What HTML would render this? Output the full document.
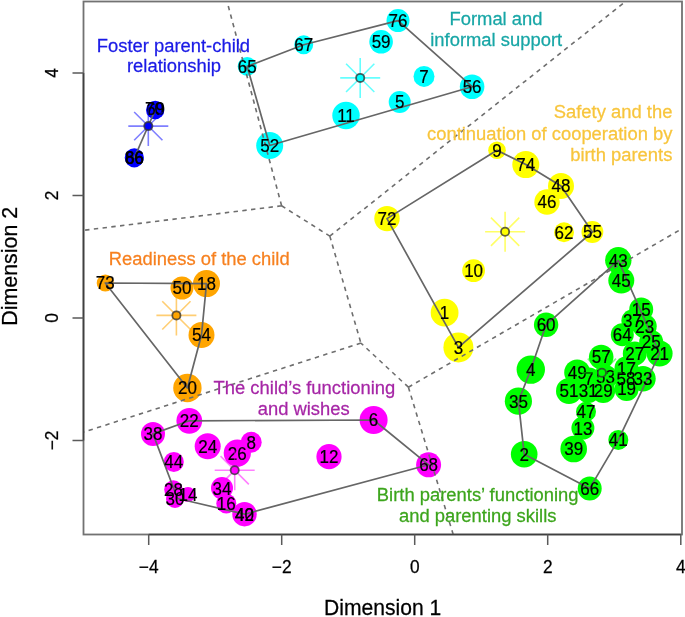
<!DOCTYPE html><html><head><meta charset="utf-8"><style>html,body{margin:0;padding:0;background:#fff;}svg{display:block;filter:blur(0.35px);}text{font-family:"Liberation Sans",sans-serif;}</style></head><body>
<svg width="685" height="617" viewBox="0 0 685 617">
<rect x="0" y="0" width="685" height="617" fill="#fff"/>
<circle cx="398" cy="20.6" r="11.5" fill="#00ffff"/>
<circle cx="303.7" cy="44.8" r="9.5" fill="#00ffff"/>
<circle cx="381.1" cy="41.8" r="11.8" fill="#00ffff"/>
<circle cx="247.2" cy="66.4" r="9.5" fill="#00ffff"/>
<circle cx="424" cy="76.4" r="10.5" fill="#00ffff"/>
<circle cx="472.1" cy="86.7" r="12.3" fill="#00ffff"/>
<circle cx="399.7" cy="102" r="11" fill="#00ffff"/>
<circle cx="346" cy="115.5" r="13.7" fill="#00ffff"/>
<circle cx="269.7" cy="145.5" r="13.5" fill="#00ffff"/>
<circle cx="155.2" cy="110" r="9.2" fill="#0000ff"/>
<circle cx="134.3" cy="157.8" r="9.6" fill="#0000ff"/>
<circle cx="105.3" cy="283" r="8.6" fill="#ffa500"/>
<circle cx="182" cy="288" r="11.5" fill="#ffa500"/>
<circle cx="206.5" cy="283.6" r="13.5" fill="#ffa500"/>
<circle cx="201.5" cy="335" r="13" fill="#ffa500"/>
<circle cx="187.4" cy="388" r="14.2" fill="#ffa500"/>
<circle cx="497" cy="150.3" r="8.8" fill="#ffff00"/>
<circle cx="525.8" cy="164.6" r="13.5" fill="#ffff00"/>
<circle cx="561" cy="186" r="13" fill="#ffff00"/>
<circle cx="547" cy="202" r="12.7" fill="#ffff00"/>
<circle cx="387" cy="218.6" r="12.7" fill="#ffff00"/>
<circle cx="564" cy="232.2" r="10" fill="#ffff00"/>
<circle cx="592.4" cy="232" r="10.9" fill="#ffff00"/>
<circle cx="473.6" cy="270.6" r="11.4" fill="#ffff00"/>
<circle cx="444.6" cy="312.7" r="13.9" fill="#ffff00"/>
<circle cx="458.4" cy="347.4" r="15" fill="#ffff00"/>
<circle cx="189.3" cy="420.8" r="12.9" fill="#ff00ff"/>
<circle cx="153" cy="433.9" r="12" fill="#ff00ff"/>
<circle cx="207.7" cy="446.2" r="13" fill="#ff00ff"/>
<circle cx="237.3" cy="453.1" r="13.6" fill="#ff00ff"/>
<circle cx="251.2" cy="442.2" r="10.5" fill="#ff00ff"/>
<circle cx="173.8" cy="461.9" r="10" fill="#ff00ff"/>
<circle cx="222" cy="488.1" r="11" fill="#ff00ff"/>
<circle cx="226.3" cy="503.5" r="10" fill="#ff00ff"/>
<circle cx="244.5" cy="514.2" r="12.2" fill="#ff00ff"/>
<circle cx="173.4" cy="489.5" r="9.2" fill="#ff00ff"/>
<circle cx="175" cy="499" r="9" fill="#ff00ff"/>
<circle cx="188" cy="494.5" r="7.5" fill="#ff00ff"/>
<circle cx="373.6" cy="420" r="14" fill="#ff00ff"/>
<circle cx="329" cy="456.7" r="12.6" fill="#ff00ff"/>
<circle cx="428.6" cy="464.8" r="12.5" fill="#ff00ff"/>
<circle cx="618.3" cy="260.3" r="13.2" fill="#00ff00"/>
<circle cx="621.3" cy="280.5" r="13" fill="#00ff00"/>
<circle cx="641.2" cy="309.4" r="12" fill="#00ff00"/>
<circle cx="632.4" cy="320.5" r="11" fill="#00ff00"/>
<circle cx="644.7" cy="326.3" r="12" fill="#00ff00"/>
<circle cx="622.3" cy="334.7" r="11.5" fill="#00ff00"/>
<circle cx="651.2" cy="341.9" r="12" fill="#00ff00"/>
<circle cx="659.6" cy="353.5" r="13" fill="#00ff00"/>
<circle cx="634.8" cy="353.5" r="12" fill="#00ff00"/>
<circle cx="601.2" cy="357" r="12.3" fill="#00ff00"/>
<circle cx="626.5" cy="368.2" r="12" fill="#00ff00"/>
<circle cx="626" cy="378.5" r="12" fill="#00ff00"/>
<circle cx="643" cy="378.7" r="12.7" fill="#00ff00"/>
<circle cx="626.6" cy="389" r="12" fill="#00ff00"/>
<circle cx="577.2" cy="372.4" r="13" fill="#00ff00"/>
<circle cx="589" cy="378.5" r="11" fill="#00ff00"/>
<circle cx="605.5" cy="377" r="12" fill="#00ff00"/>
<circle cx="569" cy="391" r="13" fill="#00ff00"/>
<circle cx="588.3" cy="391" r="12" fill="#00ff00"/>
<circle cx="603.2" cy="391" r="12" fill="#00ff00"/>
<circle cx="586" cy="411.8" r="10" fill="#00ff00"/>
<circle cx="582.9" cy="428.1" r="11.5" fill="#00ff00"/>
<circle cx="573.7" cy="449" r="13.3" fill="#00ff00"/>
<circle cx="618.3" cy="439.9" r="10" fill="#00ff00"/>
<circle cx="589.7" cy="488.4" r="12" fill="#00ff00"/>
<circle cx="524.2" cy="454.2" r="13.3" fill="#00ff00"/>
<circle cx="518.4" cy="401.2" r="13.6" fill="#00ff00"/>
<circle cx="530.8" cy="369.6" r="14.2" fill="#00ff00"/>
<circle cx="546.1" cy="324.8" r="12.2" fill="#00ff00"/>
<path d="M281.6 205.8L227.2 2M281.6 205.8L84 230.3M281.6 205.8L329.8 236.1M329.8 236.1L625 2M329.8 236.1L360.9 343.1M360.9 343.1L84 432M408.4 387.2L360.9 343.1M408.4 387.2L682 228.7M408.4 387.2L453.2 534.5" stroke="#6e6e6e" stroke-width="1.6" stroke-dasharray="4.4 4.4" fill="none"/>
<path d="M247.2 66.4 L303.7 44.8 L398 20.6 L472.1 86.7 L269.7 145.5Z" stroke="#666" stroke-width="1.7" fill="none" stroke-linejoin="round"/>
<path d="M155.2 110 L134.3 157.8" stroke="#666" stroke-width="1.7" fill="none" stroke-linejoin="round"/>
<path d="M105.3 283 L206.5 283.6 L201.5 335 L187.4 388Z" stroke="#666" stroke-width="1.7" fill="none" stroke-linejoin="round"/>
<path d="M387 218.6 L497 150.3 L525.8 164.6 L561 186 L592.4 232 L458.4 347.4Z" stroke="#666" stroke-width="1.7" fill="none" stroke-linejoin="round"/>
<path d="M153 433.9 L189.3 420.8 L373.6 420 L428.6 464.8 L244.5 514.2 L177.5 498.5Z" stroke="#666" stroke-width="1.7" fill="none" stroke-linejoin="round"/>
<path d="M618.3 260.3 L659.6 353.5 L618.3 439.9 L589.7 488.4 L524.2 454.2 L518.4 401.2 L530.8 369.6 L546.1 324.8Z" stroke="#666" stroke-width="1.7" fill="none" stroke-linejoin="round"/>
<text transform="translate(398 27.05) scale(1 1.03)" font-size="17" text-anchor="middle" fill="#000" stroke="#000" stroke-width="0.2">76</text>
<text transform="translate(303.7 51.25) scale(1 1.03)" font-size="17" text-anchor="middle" fill="#000" stroke="#000" stroke-width="0.2">67</text>
<text transform="translate(381.1 48.25) scale(1 1.03)" font-size="17" text-anchor="middle" fill="#000" stroke="#000" stroke-width="0.2">59</text>
<text transform="translate(247.2 72.85) scale(1 1.03)" font-size="17" text-anchor="middle" fill="#000" stroke="#000" stroke-width="0.2">65</text>
<text transform="translate(424 82.85) scale(1 1.03)" font-size="17" text-anchor="middle" fill="#000" stroke="#000" stroke-width="0.2">7</text>
<text transform="translate(472.1 93.15) scale(1 1.03)" font-size="17" text-anchor="middle" fill="#000" stroke="#000" stroke-width="0.2">56</text>
<text transform="translate(399.7 108.45) scale(1 1.03)" font-size="17" text-anchor="middle" fill="#000" stroke="#000" stroke-width="0.2">5</text>
<text transform="translate(346 121.95) scale(1 1.03)" font-size="17" text-anchor="middle" fill="#000" stroke="#000" stroke-width="0.2">11</text>
<text transform="translate(269.7 151.95) scale(1 1.03)" font-size="17" text-anchor="middle" fill="#000" stroke="#000" stroke-width="0.2">52</text>
<text transform="translate(154.4 114.65) scale(1 1.03)" font-size="17" text-anchor="middle" fill="#000" stroke="#000" stroke-width="0.2">70</text>
<text transform="translate(155.6 115.25) scale(1 1.03)" font-size="17" text-anchor="middle" fill="#000" stroke="#000" stroke-width="0.2">69</text>
<text transform="translate(134.3 164.25) scale(1 1.03)" font-size="17" text-anchor="middle" fill="#000" stroke="#000" stroke-width="0.2">86</text>
<text transform="translate(134.6 164.25) scale(1 1.03)" font-size="17" text-anchor="middle" fill="#000" stroke="#000" stroke-width="0.2">66</text>
<text transform="translate(105.3 289.45) scale(1 1.03)" font-size="17" text-anchor="middle" fill="#000" stroke="#000" stroke-width="0.2">73</text>
<text transform="translate(182 294.45) scale(1 1.03)" font-size="17" text-anchor="middle" fill="#000" stroke="#000" stroke-width="0.2">50</text>
<text transform="translate(206.5 290.05) scale(1 1.03)" font-size="17" text-anchor="middle" fill="#000" stroke="#000" stroke-width="0.2">18</text>
<text transform="translate(201.5 341.45) scale(1 1.03)" font-size="17" text-anchor="middle" fill="#000" stroke="#000" stroke-width="0.2">54</text>
<text transform="translate(187.4 394.45) scale(1 1.03)" font-size="17" text-anchor="middle" fill="#000" stroke="#000" stroke-width="0.2">20</text>
<text transform="translate(497 156.75) scale(1 1.03)" font-size="17" text-anchor="middle" fill="#000" stroke="#000" stroke-width="0.2">9</text>
<text transform="translate(525.8 171.05) scale(1 1.03)" font-size="17" text-anchor="middle" fill="#000" stroke="#000" stroke-width="0.2">74</text>
<text transform="translate(561 192.45) scale(1 1.03)" font-size="17" text-anchor="middle" fill="#000" stroke="#000" stroke-width="0.2">48</text>
<text transform="translate(547 208.45) scale(1 1.03)" font-size="17" text-anchor="middle" fill="#000" stroke="#000" stroke-width="0.2">46</text>
<text transform="translate(387 225.05) scale(1 1.03)" font-size="17" text-anchor="middle" fill="#000" stroke="#000" stroke-width="0.2">72</text>
<text transform="translate(564 238.65) scale(1 1.03)" font-size="17" text-anchor="middle" fill="#000" stroke="#000" stroke-width="0.2">62</text>
<text transform="translate(592.4 238.45) scale(1 1.03)" font-size="17" text-anchor="middle" fill="#000" stroke="#000" stroke-width="0.2">55</text>
<text transform="translate(473.6 277.05) scale(1 1.03)" font-size="17" text-anchor="middle" fill="#000" stroke="#000" stroke-width="0.2">10</text>
<text transform="translate(444.6 319.15) scale(1 1.03)" font-size="17" text-anchor="middle" fill="#000" stroke="#000" stroke-width="0.2">1</text>
<text transform="translate(458.4 353.85) scale(1 1.03)" font-size="17" text-anchor="middle" fill="#000" stroke="#000" stroke-width="0.2">3</text>
<text transform="translate(189.3 427.25) scale(1 1.03)" font-size="17" text-anchor="middle" fill="#000" stroke="#000" stroke-width="0.2">22</text>
<text transform="translate(153 440.35) scale(1 1.03)" font-size="17" text-anchor="middle" fill="#000" stroke="#000" stroke-width="0.2">38</text>
<text transform="translate(207.7 452.65) scale(1 1.03)" font-size="17" text-anchor="middle" fill="#000" stroke="#000" stroke-width="0.2">24</text>
<text transform="translate(237.3 459.55) scale(1 1.03)" font-size="17" text-anchor="middle" fill="#000" stroke="#000" stroke-width="0.2">26</text>
<text transform="translate(251.2 448.65) scale(1 1.03)" font-size="17" text-anchor="middle" fill="#000" stroke="#000" stroke-width="0.2">8</text>
<text transform="translate(173.8 468.35) scale(1 1.03)" font-size="17" text-anchor="middle" fill="#000" stroke="#000" stroke-width="0.2">44</text>
<text transform="translate(222 494.55) scale(1 1.03)" font-size="17" text-anchor="middle" fill="#000" stroke="#000" stroke-width="0.2">34</text>
<text transform="translate(226.3 509.95) scale(1 1.03)" font-size="17" text-anchor="middle" fill="#000" stroke="#000" stroke-width="0.2">16</text>
<text transform="translate(244.5 520.65) scale(1 1.03)" font-size="17" text-anchor="middle" fill="#000" stroke="#000" stroke-width="0.2">40</text>
<text transform="translate(244.5 520.65) scale(1 1.03)" font-size="17" text-anchor="middle" fill="#000" stroke="#000" stroke-width="0.2">42</text>
<text transform="translate(173.4 495.95) scale(1 1.03)" font-size="17" text-anchor="middle" fill="#000" stroke="#000" stroke-width="0.2">28</text>
<text transform="translate(175 505.45) scale(1 1.03)" font-size="17" text-anchor="middle" fill="#000" stroke="#000" stroke-width="0.2">30</text>
<text transform="translate(188 500.95) scale(1 1.03)" font-size="17" text-anchor="middle" fill="#000" stroke="#000" stroke-width="0.2">14</text>
<text transform="translate(373.6 426.45) scale(1 1.03)" font-size="17" text-anchor="middle" fill="#000" stroke="#000" stroke-width="0.2">6</text>
<text transform="translate(329 463.15) scale(1 1.03)" font-size="17" text-anchor="middle" fill="#000" stroke="#000" stroke-width="0.2">12</text>
<text transform="translate(428.6 471.25) scale(1 1.03)" font-size="17" text-anchor="middle" fill="#000" stroke="#000" stroke-width="0.2">68</text>
<text transform="translate(618.3 266.75) scale(1 1.03)" font-size="17" text-anchor="middle" fill="#000" stroke="#000" stroke-width="0.2">43</text>
<text transform="translate(621.3 286.95) scale(1 1.03)" font-size="17" text-anchor="middle" fill="#000" stroke="#000" stroke-width="0.2">45</text>
<text transform="translate(641.2 315.85) scale(1 1.03)" font-size="17" text-anchor="middle" fill="#000" stroke="#000" stroke-width="0.2">15</text>
<text transform="translate(632.4 326.95) scale(1 1.03)" font-size="17" text-anchor="middle" fill="#000" stroke="#000" stroke-width="0.2">37</text>
<text transform="translate(644.7 332.75) scale(1 1.03)" font-size="17" text-anchor="middle" fill="#000" stroke="#000" stroke-width="0.2">23</text>
<text transform="translate(622.3 341.15) scale(1 1.03)" font-size="17" text-anchor="middle" fill="#000" stroke="#000" stroke-width="0.2">64</text>
<text transform="translate(651.2 348.35) scale(1 1.03)" font-size="17" text-anchor="middle" fill="#000" stroke="#000" stroke-width="0.2">25</text>
<text transform="translate(659.6 359.95) scale(1 1.03)" font-size="17" text-anchor="middle" fill="#000" stroke="#000" stroke-width="0.2">21</text>
<text transform="translate(634.8 359.95) scale(1 1.03)" font-size="17" text-anchor="middle" fill="#000" stroke="#000" stroke-width="0.2">27</text>
<text transform="translate(601.2 363.45) scale(1 1.03)" font-size="17" text-anchor="middle" fill="#000" stroke="#000" stroke-width="0.2">57</text>
<text transform="translate(626.5 374.65) scale(1 1.03)" font-size="17" text-anchor="middle" fill="#000" stroke="#000" stroke-width="0.2">17</text>
<text transform="translate(626 384.95) scale(1 1.03)" font-size="17" text-anchor="middle" fill="#000" stroke="#000" stroke-width="0.2">58</text>
<text transform="translate(643 385.15) scale(1 1.03)" font-size="17" text-anchor="middle" fill="#000" stroke="#000" stroke-width="0.2">33</text>
<text transform="translate(626.6 395.45) scale(1 1.03)" font-size="17" text-anchor="middle" fill="#000" stroke="#000" stroke-width="0.2">19</text>
<text transform="translate(577.2 378.85) scale(1 1.03)" font-size="17" text-anchor="middle" fill="#000" stroke="#000" stroke-width="0.2">49</text>
<text transform="translate(589 384.95) scale(1 1.03)" font-size="17" text-anchor="middle" fill="#000" stroke="#000" stroke-width="0.2">7</text>
<text transform="translate(605.5 383.45) scale(1 1.03)" font-size="17" text-anchor="middle" fill="#000" stroke="#000" stroke-width="0.2">53</text>
<text transform="translate(569 397.45) scale(1 1.03)" font-size="17" text-anchor="middle" fill="#000" stroke="#000" stroke-width="0.2">51</text>
<text transform="translate(588.3 397.45) scale(1 1.03)" font-size="17" text-anchor="middle" fill="#000" stroke="#000" stroke-width="0.2">31</text>
<text transform="translate(603.2 397.45) scale(1 1.03)" font-size="17" text-anchor="middle" fill="#000" stroke="#000" stroke-width="0.2">29</text>
<text transform="translate(586 418.25) scale(1 1.03)" font-size="17" text-anchor="middle" fill="#000" stroke="#000" stroke-width="0.2">47</text>
<text transform="translate(582.9 434.55) scale(1 1.03)" font-size="17" text-anchor="middle" fill="#000" stroke="#000" stroke-width="0.2">13</text>
<text transform="translate(573.7 455.45) scale(1 1.03)" font-size="17" text-anchor="middle" fill="#000" stroke="#000" stroke-width="0.2">39</text>
<text transform="translate(618.3 446.35) scale(1 1.03)" font-size="17" text-anchor="middle" fill="#000" stroke="#000" stroke-width="0.2">41</text>
<text transform="translate(589.7 494.85) scale(1 1.03)" font-size="17" text-anchor="middle" fill="#000" stroke="#000" stroke-width="0.2">66</text>
<text transform="translate(524.2 460.65) scale(1 1.03)" font-size="17" text-anchor="middle" fill="#000" stroke="#000" stroke-width="0.2">2</text>
<text transform="translate(518.4 407.65) scale(1 1.03)" font-size="17" text-anchor="middle" fill="#000" stroke="#000" stroke-width="0.2">35</text>
<text transform="translate(530.8 376.05) scale(1 1.03)" font-size="17" text-anchor="middle" fill="#000" stroke="#000" stroke-width="0.2">4</text>
<text transform="translate(546.1 331.25) scale(1 1.03)" font-size="17" text-anchor="middle" fill="#000" stroke="#000" stroke-width="0.2">60</text>
<path d="M340.2 77.9L380.2 77.9M346.06 63.76L374.34 92.04M360.2 57.9L360.2 97.9M374.34 63.76L346.06 92.04" stroke="#00ffff" stroke-opacity="0.6" stroke-width="1.6" fill="none"/>
<path d="M128.3 126.1L168.3 126.1M134.16 111.96L162.44 140.24M148.3 106.1L148.3 146.1M162.44 111.96L134.16 140.24" stroke="#0000ff" stroke-opacity="0.5" stroke-width="1.6" fill="none"/>
<path d="M156.4 315.4L196.4 315.4M162.26 301.26L190.54 329.54M176.4 295.4L176.4 335.4M190.54 301.26L162.26 329.54" stroke="#ffa500" stroke-opacity="0.55" stroke-width="1.6" fill="none"/>
<path d="M485.1 231.7L525.1 231.7M490.96 217.56L519.24 245.84M505.1 211.7L505.1 251.7M519.24 217.56L490.96 245.84" stroke="#ffff00" stroke-opacity="0.6" stroke-width="1.6" fill="none"/>
<path d="M214.7 470.2L254.7 470.2M220.56 456.06L248.84 484.34M234.7 450.2L234.7 490.2M248.84 456.06L220.56 484.34" stroke="#ff00ff" stroke-opacity="0.5" stroke-width="1.6" fill="none"/>
<path d="M581.9 372.7L621.9 372.7M587.76 358.56L616.04 386.84M601.9 352.7L601.9 392.7M616.04 358.56L587.76 386.84" stroke="#00ff00" stroke-opacity="0.5" stroke-width="1.6" fill="none"/>
<circle cx="360.2" cy="77.9" r="4.1" fill="#00ffff" stroke="#333" stroke-opacity="0.78" stroke-width="1.8"/>
<circle cx="148.3" cy="126.1" r="4.1" fill="#0000ff" stroke="#333" stroke-opacity="0.78" stroke-width="1.8"/>
<circle cx="176.4" cy="315.4" r="4.1" fill="#ffa500" stroke="#333" stroke-opacity="0.78" stroke-width="1.8"/>
<circle cx="505.1" cy="231.7" r="4.1" fill="#ffff00" stroke="#333" stroke-opacity="0.78" stroke-width="1.8"/>
<circle cx="234.7" cy="470.2" r="4.1" fill="#ff00ff" stroke="#333" stroke-opacity="0.78" stroke-width="1.8"/>
<circle cx="601.9" cy="372.7" r="4.1" fill="#00ff00" stroke="#333" stroke-opacity="0.78" stroke-width="1.8"/>
<rect x="83.5" y="1.5" width="598.5" height="533" fill="none" stroke="#727272" stroke-width="1.8"/>
<path d="M148.7 534.5H680.8M83.5 73V440.4" stroke="#404040" stroke-width="1.6" fill="none"/>
<path d="M148.7 534.5V545M281.7 534.5V545M414.7 534.5V545M547.7 534.5V545M680.8 534.5V545M83.5 73H72.5M83.5 195.5H72.5M83.5 318H72.5M83.5 440.4H72.5" stroke="#5a5a5a" stroke-width="1.5" fill="none"/>
<text transform="translate(148.7 572.9) scale(1 1.03)" font-size="17.3" text-anchor="middle" fill="#000" stroke="#000" stroke-width="0.25">−4</text>
<text transform="translate(281.7 572.9) scale(1 1.03)" font-size="17.3" text-anchor="middle" fill="#000" stroke="#000" stroke-width="0.25">−2</text>
<text transform="translate(414.7 572.9) scale(1 1.03)" font-size="17.3" text-anchor="middle" fill="#000" stroke="#000" stroke-width="0.25">0</text>
<text transform="translate(547.7 572.9) scale(1 1.03)" font-size="17.3" text-anchor="middle" fill="#000" stroke="#000" stroke-width="0.25">2</text>
<text transform="translate(680.8 572.9) scale(1 1.03)" font-size="17.3" text-anchor="middle" fill="#000" stroke="#000" stroke-width="0.25">4</text>
<text transform="translate(57.7 73) rotate(-90) scale(1 1.03)" font-size="17.3" text-anchor="middle" fill="#000" stroke="#000" stroke-width="0.25">4</text>
<text transform="translate(57.7 195.5) rotate(-90) scale(1 1.03)" font-size="17.3" text-anchor="middle" fill="#000" stroke="#000" stroke-width="0.25">2</text>
<text transform="translate(57.7 318) rotate(-90) scale(1 1.03)" font-size="17.3" text-anchor="middle" fill="#000" stroke="#000" stroke-width="0.25">0</text>
<text transform="translate(57.7 440.4) rotate(-90) scale(1 1.03)" font-size="17.3" text-anchor="middle" fill="#000" stroke="#000" stroke-width="0.25">−2</text>
<text transform="translate(382.6 615.4) scale(1 1.06)" font-size="21.1" text-anchor="middle" fill="#000" stroke="#000" stroke-width="0.25">Dimension 1</text>
<text transform="translate(16.9 266.3) rotate(-90)" font-size="21.4" text-anchor="middle" fill="#000" stroke="#000" stroke-width="0.25">Dimension 2</text>
<text transform="translate(173.4 51.6) scale(1 1.02)" font-size="18.4" text-anchor="middle" fill="#1a1ae6" stroke="#1a1ae6" stroke-width="0.25">Foster parent-child</text>
<text transform="translate(174 72) scale(1 1.02)" font-size="18.4" text-anchor="middle" fill="#1a1ae6" stroke="#1a1ae6" stroke-width="0.25">relationship</text>
<text transform="translate(496 24.9) scale(1 1.02)" font-size="18.4" text-anchor="middle" fill="#17a6a6" stroke="#17a6a6" stroke-width="0.25">Formal and</text>
<text transform="translate(496.2 45.6) scale(1 1.02)" font-size="18.4" text-anchor="middle" fill="#17a6a6" stroke="#17a6a6" stroke-width="0.25">informal support</text>
<text transform="translate(199.2 264.9) scale(1 1.02)" font-size="18.4" text-anchor="middle" fill="#f7801f" stroke="#f7801f" stroke-width="0.25">Readiness of the child</text>
<text transform="translate(304.4 394.3) scale(1 1.02)" font-size="18.4" text-anchor="middle" fill="#a626a6" stroke="#a626a6" stroke-width="0.25">The child’s functioning</text>
<text transform="translate(303.7 414.8) scale(1 1.02)" font-size="18.4" text-anchor="middle" fill="#a626a6" stroke="#a626a6" stroke-width="0.25">and wishes</text>
<text transform="translate(477.7 501.4) scale(1 1.02)" font-size="18.4" text-anchor="middle" fill="#3ca51c" stroke="#3ca51c" stroke-width="0.25">Birth parents’ functioning</text>
<text transform="translate(477.7 522.3) scale(1 1.02)" font-size="18.4" text-anchor="middle" fill="#3ca51c" stroke="#3ca51c" stroke-width="0.25">and parenting skills</text>
<text transform="translate(672.4 118.2) scale(1 1.02)" font-size="18.4" text-anchor="end" fill="#f8c53c" stroke="#f8c53c" stroke-width="0.25">Safety and the</text>
<text transform="translate(672.4 139.5) scale(1 1.02)" font-size="18.4" text-anchor="end" fill="#f8c53c" stroke="#f8c53c" stroke-width="0.25">continuation of cooperation by</text>
<text transform="translate(672.4 160.8) scale(1 1.02)" font-size="18.4" text-anchor="end" fill="#f8c53c" stroke="#f8c53c" stroke-width="0.25">birth parents</text>
</svg></body></html>
